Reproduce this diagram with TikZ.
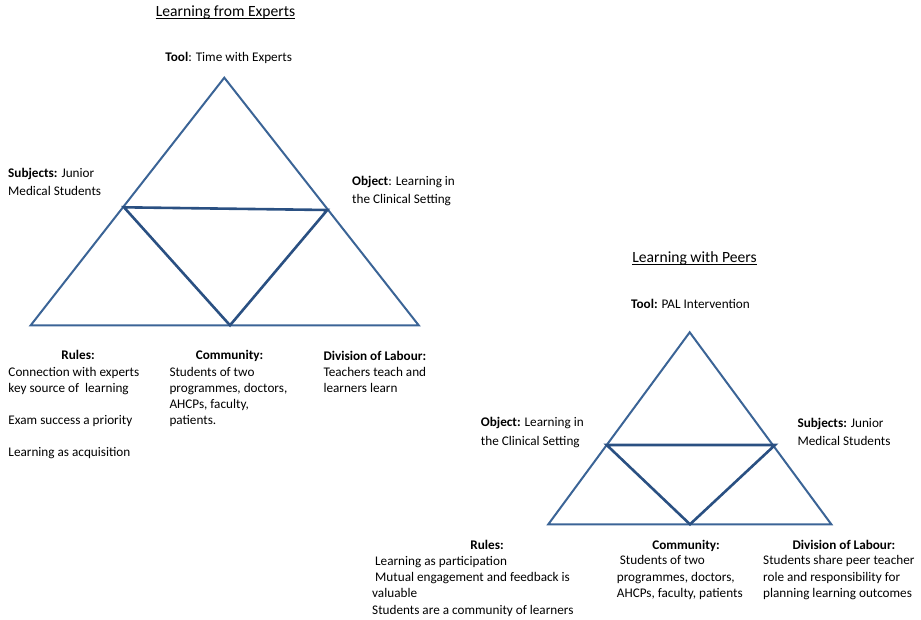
\documentclass[tikz,border=0pt]{standalone}
\usepackage{fontspec}
\setmainfont{Carlito}
\usepackage{xcolor}
\usepackage{tikz}
\usetikzlibrary{calc}
\definecolor{outerblue}{HTML}{3B6496}
\definecolor{innerblue}{HTML}{2A5082}
\tikzstyle{outer} = [draw=outerblue, line width=2pt, line join=miter]
\tikzstyle{inner} = [draw=innerblue, line width=2.6pt, line join=miter]
\tikzstyle{uline} = [line width=0.9pt, black]

\begin{document}
\begin{tikzpicture}[
    x=1pt, y=-1pt,
    title/.style={inner sep=0pt, anchor=base, font=\fontsize{15.6}{18}\selectfont},
    label/.style={inner sep=0pt, align=left, font=\fontsize{13.2}{18.5}\selectfont},
    head/.style={inner sep=0pt, anchor=base, font=\fontsize{13.2}{16}\selectfont\bfseries},
    body/.style={inner sep=0pt, anchor=base west, align=left, font=\fontsize{13.2}{16}\selectfont},
    peerbody/.style={body, font=\fontsize{13.2}{16.3}\selectfont}
]
    \useasboundingbox (0,0) rectangle (921,619);

    % Learning from Experts
    \coordinate (a1) at (224.3,77.7);
    \coordinate (b1) at (30.7,325.3);
    \coordinate (c1) at (418.7,325.3);
    \coordinate (l1) at (124,207.3);
    \coordinate (r1) at (327.3,210);
    \coordinate (m1) at (230,325.3);
    \draw[outer] (a1) -- (b1) -- (c1) -- cycle;
    \draw[inner] (l1) -- (r1) -- (m1) -- cycle;

    \node[title] (ttl1) at (225.5,16.7) {Learning from Experts};
    \draw[uline] ($(ttl1.base west)+(0,2)$) -- ($(ttl1.base east)+(0,2)$);
    \node[label, anchor=base] (tool1) at (228.7,61.7) {\textbf{Tool}: Time with Experts};
    \node[label, anchor=base west] (subj1) at (8,195.5) {\textbf{Subjects:} Junior\\Medical Students};
    \node[label, anchor=base west] (obj1) at (352,203.5) {\textbf{Object}: Learning in\\the Clinical Setting};

    \node[head] (rules1) at (78,359.3) {Rules:};
    \node[body] (rulestxt1) at (8.3,456) {Connection with experts\\key source of \ learning\\[16pt]Exam success a priority\\[16pt]Learning as acquisition};
    \node[head] (comm1) at (229.5,359.3) {Community:};
    \node[body] (commtxt1) at (169.3,424) {Students of two\\programmes, doctors,\\AHCPs, faculty,\\patients.};
    \node[head, anchor=base west] (div1) at (323.3,360.3) {Division of Labour:};
    \node[body] (divtxt1) at (323.3,392.3) {Teachers teach and\\learners learn};

    % Learning with Peers
    \coordinate (a2) at (689.7,332.3);
    \coordinate (b2) at (548.3,524.3);
    \coordinate (c2) at (831.3,524.3);
    \coordinate (l2) at (606.7,445);
    \coordinate (r2) at (775,445);
    \coordinate (m2) at (690,524.3);
    \draw[outer] (a2) -- (b2) -- (c2) -- cycle;
    \draw[inner] (l2) -- (r2) -- (m2) -- cycle;

    \node[title] (ttl2) at (694.5,262) {Learning with Peers};
    \draw[uline] ($(ttl2.base west)+(0,2)$) -- ($(ttl2.base east)+(0,2)$);
    \node[label, anchor=base] (tool2) at (690.5,308) {\textbf{Tool:} PAL Intervention};
    \node[label, anchor=base west] (obj2) at (480.7,445.3) {\textbf{Object:} Learning in\\the Clinical Setting};
    \node[label, anchor=base west] (subj2) at (797.3,445.5) {\textbf{Subjects:} Junior\\Medical Students};

    \node[head] (rules2) at (487,549.3) {Rules:};
    \node[peerbody] (rulestxt2) at (372,614) {\ Learning as participation\\\ Mutual engagement and feedback is\\valuable\\Students are a community of learners};
    \node[head] (comm2) at (686,549.3) {Community:};
    \node[peerbody] (commtxt2) at (616.7,597.5) {\ Students of two\\programmes, doctors,\\AHCPs, faculty, patients};
    \node[head] (div2) at (844,549.3) {Division of Labour:};
    \node[peerbody] (divtxt2) at (763,597.5) {Students share peer teacher\\role and responsibility for\\planning learning outcomes};
\end{tikzpicture}
\end{document}
